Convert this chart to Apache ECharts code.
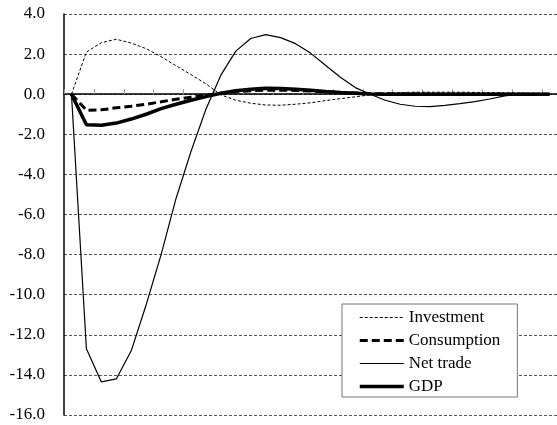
<!DOCTYPE html>
<html>
<head>
<meta charset="utf-8">
<script src="https://cdn.jsdelivr.net/npm/echarts@6/dist/echarts.min.js"></script>
<style>html,body{margin:0;padding:0;background:#fff}#c{width:557px;height:425px}</style>
</head>
<body>
<div id="c"></div>
<script>
// categories (periods 0..32)
var periods = [];
for (var k = 0; k <= 32; k++) periods.push(String(k));

var investment = [0, 2.1, 2.57, 2.74, 2.55, 2.27, 1.87, 1.42, 0.98, 0.52, -0.03, -0.3, -0.45, -0.54, -0.55, -0.5, -0.43, -0.32, -0.22, -0.13, -0.03, 0.05, 0.08, 0.1, 0.1, 0.1, 0.1, 0.09, 0.08, 0.07, 0.06, 0.05, 0.04];
var consumption = [0, -0.8, -0.78, -0.68, -0.6, -0.5, -0.38, -0.25, -0.15, -0.05, 0.05, 0.12, 0.17, 0.2, 0.2, 0.19, 0.16, 0.12, 0.09, 0.06, 0.03, 0.02, 0.01, 0.01, 0, 0, 0, 0, 0, 0, 0, 0, 0];
var netTrade = [0, -12.7, -14.35, -14.2, -12.8, -10.5, -8.0, -5.2, -2.86, -0.75, 0.95, 2.15, 2.78, 2.97, 2.82, 2.52, 2.05, 1.44, 0.85, 0.33, 0, -0.3, -0.5, -0.6, -0.62, -0.56, -0.47, -0.37, -0.24, -0.08, 0, 0, 0];
var gdp = [0, -1.52, -1.55, -1.44, -1.24, -1.0, -0.72, -0.5, -0.3, -0.12, 0.05, 0.17, 0.25, 0.3, 0.29, 0.25, 0.2, 0.14, 0.09, 0.05, 0.01, 0, 0, 0, 0, 0, 0, 0, 0, 0, 0, 0, 0];

var names = ['Investment', 'Consumption', 'Net trade', 'GDP'];
var legendWidths = [1, 3, 1.2, 3.5];

var chart = echarts.init(document.getElementById('c'), null, {renderer: 'canvas'});
var font = 'Liberation Serif';
chart.setOption({
  animation: false,
  backgroundColor: '#fff',
  grid: {left: 64, top: 14, right: -2, bottom: 10, containLabel: false},
  legend: {
    data: names.map(function (n, i) { return {name: n, lineStyle: {width: legendWidths[i]}}; }),
    orient: 'vertical',
    left: 342,
    top: 304,
    itemWidth: 44,
    itemHeight: 14,
    itemGap: 6,
    padding: [5, 17, 2, 16],
    borderColor: '#777',
    borderWidth: 1,
    backgroundColor: '#fff',
    itemStyle: {opacity: 0},
    textStyle: {fontFamily: font, fontSize: 17, color: '#000'}
  },
  xAxis: {
    type: 'category',
    data: periods,
    boundaryGap: true,
    axisLine: {onZero: true, lineStyle: {color: '#000', width: 1.5}},
    axisTick: {show: true, inside: true, length: 5, lineStyle: {color: '#999', width: 1}},
    axisLabel: {show: false},
    splitLine: {show: false}
  },
  yAxis: {
    type: 'value',
    min: -16,
    max: 4,
    interval: 2,
    axisLine: {show: true, lineStyle: {color: '#000', width: 1.5}},
    axisTick: {show: false},
    axisLabel: {
      formatter: function (v) { return v.toFixed(1); },
      fontFamily: font, fontSize: 17, color: '#000', margin: 19
    },
    splitLine: {show: true, lineStyle: {color: '#555', width: 1, type: [3, 2]}}
  },
  series: [
    {name: 'Net trade', type: 'line', data: netTrade, symbol: 'none', z: 2,
     lineStyle: {color: '#000', width: 1.2, type: 'solid'}, itemStyle: {color: '#000'}},
    {name: 'Investment', type: 'line', data: investment, symbol: 'none', z: 3,
     lineStyle: {color: '#000', width: 1, type: [3, 2]}, itemStyle: {color: '#000'}},
    {name: 'GDP', type: 'line', data: gdp, symbol: 'none', z: 4,
     lineStyle: {color: '#000', width: 3.5, type: 'solid'}, itemStyle: {color: '#000'}},
    {name: 'Consumption', type: 'line', data: consumption, symbol: 'none', z: 5,
     lineStyle: {color: '#000', width: 3, type: [8, 4]}, itemStyle: {color: '#000'}}
  ]
});
</script>
</body>
</html>
